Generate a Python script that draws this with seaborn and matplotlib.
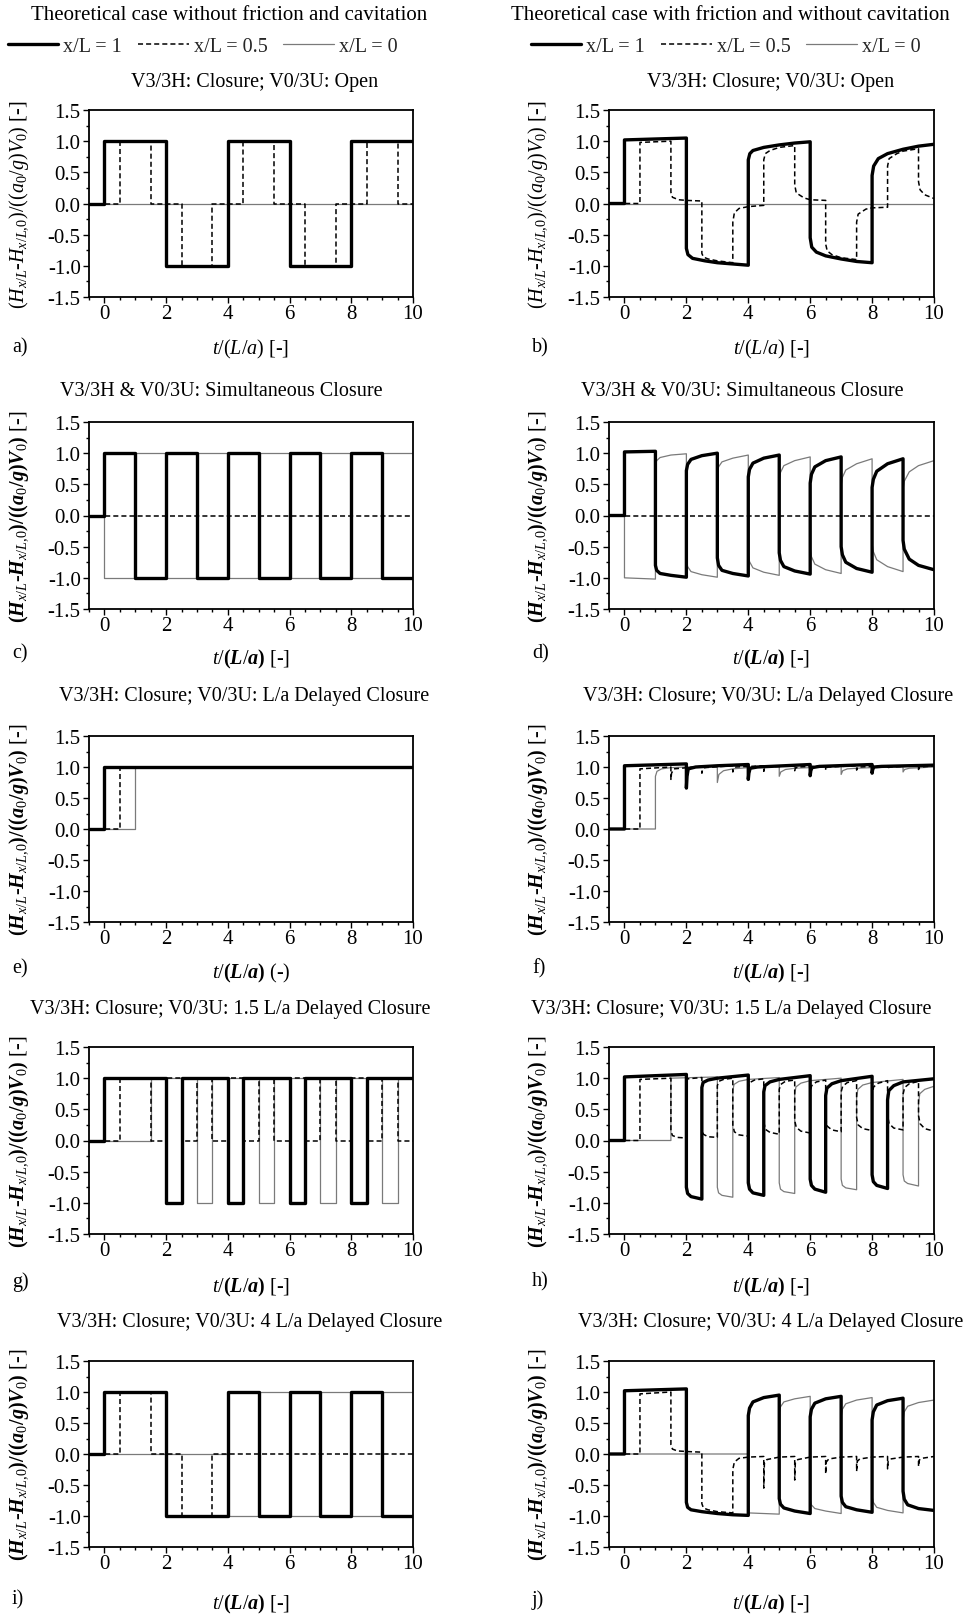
import matplotlib
matplotlib.use("Agg")
import matplotlib.pyplot as plt
import seaborn as sns
from matplotlib.lines import Line2D
from matplotlib.ticker import MultipleLocator

# ==============================================================================
# Head at x/L = 1, 0.5, 0 : dimensionless time t/(L/a) vs (H - H0)/((a0/g)V0)
# Each series = breakpoints (t, h)
# ==============================================================================

# ---- a) no friction, V3/3H closure, V0/3U open
a_x1 = [(-0.5, 0), (0, 0), (0, 1), (2, 1), (2, -1), (4, -1), (4, 1), (6, 1), (6, -1), (8, -1), (8, 1), (10, 1)]
a_x05 = [(-0.5, 0), (0.5, 0), (0.5, 1), (1.5, 1), (1.5, 0), (2.5, 0), (2.5, -1), (3.5, -1), (3.5, 0), (4.5, 0),
         (4.5, 1), (5.5, 1), (5.5, 0), (6.5, 0), (6.5, -1), (7.5, -1), (7.5, 0), (8.5, 0), (8.5, 1), (9.5, 1),
         (9.5, 0), (10, 0)]
a_x0 = [(-0.5, 0), (10, 0)]

# ---- b) friction, V3/3H closure, V0/3U open
b_x1 = [(-0.5, 0), (0, 0), (0, 1.02), (2, 1.05), (2, -0.72), (2.05, -0.82), (2.2, -0.88), (2.6, -0.92), (3, -0.95),
        (3.5, -0.97), (4, -0.99), (4, 0.7), (4.05, 0.8), (4.15, 0.85), (4.5, 0.9), (5, 0.94), (5.5, 0.97), (6, 0.99),
        (6, -0.55), (6.05, -0.7), (6.2, -0.78), (6.5, -0.84), (7, -0.89), (7.5, -0.93), (8, -0.95), (8, 0.45),
        (8.05, 0.6), (8.2, 0.72), (8.5, 0.8), (9, 0.87), (9.5, 0.92), (10, 0.95)]
b_x05 = [(-0.5, 0), (0.5, 0), (0.5, 0.98), (1.5, 1.0), (1.5, 0.18), (1.55, 0.1), (1.75, 0.06), (2, 0.05), (2.5, 0.04),
         (2.5, -0.8), (2.55, -0.86), (2.7, -0.89), (3, -0.92), (3.5, -0.95), (3.5, -0.3), (3.55, -0.15), (3.7, -0.08),
         (4, -0.05), (4.5, -0.03), (4.5, 0.7), (4.55, 0.8), (4.7, 0.85), (5, 0.9), (5.5, 0.93), (5.5, 0.3), (5.55, 0.17),
         (5.8, 0.09), (6, 0.06), (6.5, 0.05), (6.5, -0.65), (6.55, -0.76), (6.7, -0.82), (7, -0.87), (7.5, -0.9),
         (7.5, -0.3), (7.55, -0.17), (7.8, -0.09), (8, -0.07), (8.5, -0.06), (8.5, 0.6), (8.55, 0.72), (8.8, 0.8),
         (9, 0.84), (9.5, 0.88), (9.5, 0.35), (9.55, 0.22), (9.7, 0.14), (10, 0.08)]
b_x0 = [(-0.5, 0), (10, 0)]

# ---- c) no friction, simultaneous closure
c_x1 = [(-0.5, 0), (0, 0), (0, 1), (1, 1), (1, -1), (2, -1), (2, 1), (3, 1), (3, -1), (4, -1), (4, 1), (5, 1),
        (5, -1), (6, -1), (6, 1), (7, 1), (7, -1), (8, -1), (8, 1), (9, 1), (9, -1), (10, -1)]
c_x05 = [(-0.5, 0), (10, 0)]
c_x0 = [(-0.5, 0), (0, 0), (0, -1), (1, -1), (1, 1), (2, 1), (2, -1), (3, -1), (3, 1), (4, 1), (4, -1), (5, -1),
        (5, 1), (6, 1), (6, -1), (7, -1), (7, 1), (8, 1), (8, -1), (9, -1), (9, 1), (10, 1)]

# ---- d) friction, simultaneous closure
d_x1 = [(-0.5, 0), (0, 0), (0, 1.02), (1, 1.03), (1, -0.8), (1.04, -0.88), (1.15, -0.93), (1.5, -0.96), (2, -0.99),
        (2, 0.72), (2.04, 0.82), (2.15, 0.9), (2.5, 0.96), (3, 1.0), (3, -0.68), (3.04, -0.8), (3.15, -0.88),
        (3.5, -0.93), (4, -0.97), (4, 0.62), (4.04, 0.74), (4.15, 0.84), (4.5, 0.92), (5, 0.97), (5, -0.6),
        (5.04, -0.72), (5.15, -0.82), (5.5, -0.89), (6, -0.94), (6, 0.52), (6.04, 0.66), (6.15, 0.78), (6.5, 0.88),
        (7, 0.94), (7, -0.5), (7.04, -0.63), (7.15, -0.75), (7.5, -0.85), (8, -0.91), (8, 0.45), (8.04, 0.58),
        (8.15, 0.71), (8.5, 0.83), (9, 0.91), (9, -0.4), (9.04, -0.54), (9.2, -0.7), (9.5, -0.8), (10, -0.87)]
d_x05 = [(-0.5, 0), (10, 0)]
d_x0 = [(-0.5, 0), (0, 0), (0, -1.0), (1, -1.02), (1, 0.8), (1.04, 0.88), (1.15, 0.93), (1.5, 0.97), (2, 0.99),
        (2, -0.72), (2.04, -0.82), (2.15, -0.9), (2.5, -0.95), (3, -0.99), (3, 0.66), (3.04, 0.78), (3.15, 0.86),
        (3.5, 0.92), (4, 0.97), (4, -0.62), (4.04, -0.74), (4.15, -0.84), (4.5, -0.91), (5, -0.96), (5, 0.56),
        (5.04, 0.69), (5.15, 0.8), (5.5, 0.88), (6, 0.94), (6, -0.52), (6.04, -0.66), (6.15, -0.78), (6.5, -0.87),
        (7, -0.93), (7, 0.48), (7.04, 0.61), (7.15, 0.73), (7.5, 0.83), (8, 0.91), (8, -0.45), (8.04, -0.58),
        (8.15, -0.71), (8.5, -0.82), (9, -0.9), (9, 0.42), (9.04, 0.55), (9.2, 0.7), (9.5, 0.8), (10, 0.88)]

# ---- e) no friction, V0/3U L/a delayed closure
e_x1 = [(-0.5, 0), (0, 0), (0, 1), (10, 1)]
e_x05 = [(-0.5, 0), (0.5, 0), (0.5, 1), (10, 1)]
e_x0 = [(-0.5, 0), (1, 0), (1, 1), (10, 1)]

# ---- f) friction, V0/3U L/a delayed closure
f_x1 = [(-0.5, 0), (0, 0), (0, 1.02), (2, 1.05), (2, 0.66), (2.02, 0.85), (2.06, 0.97), (2.3, 1.0), (3, 1.02),
        (4, 1.04), (4, 0.8), (4.02, 0.9), (4.06, 0.98), (4.3, 1.0), (6, 1.04), (6, 0.86), (6.02, 0.94), (6.06, 0.99),
        (6.3, 1.01), (8, 1.04), (8, 0.9), (8.02, 0.96), (8.06, 1.0), (8.3, 1.01), (10, 1.03)]
f_x05 = [(-0.5, 0), (0.5, 0), (0.5, 0.97), (1.5, 1.0), (1.5, 0.8), (1.52, 0.9), (1.6, 0.97), (2.5, 1.01),
         (2.5, 0.9), (2.52, 0.95), (2.6, 0.99), (3.5, 1.02), (3.5, 0.92), (3.52, 0.97), (3.6, 1.0), (4.5, 1.02),
         (4.5, 0.93), (4.52, 0.98), (4.6, 1.0), (5.5, 1.02), (5.5, 0.94), (5.52, 0.98), (5.6, 1.0), (6.5, 1.02),
         (6.5, 0.95), (6.52, 0.99), (6.6, 1.0), (7.5, 1.02), (7.5, 0.95), (7.52, 0.99), (7.6, 1.0), (8.5, 1.02),
         (8.5, 0.96), (8.52, 0.99), (8.6, 1.0), (9.5, 1.02), (9.5, 0.96), (9.52, 0.99), (9.6, 1.0), (10, 1.02)]
f_x0 = [(-0.5, 0), (1, 0), (1, 0.85), (1.05, 0.93), (1.2, 0.97), (1.5, 0.99), (2, 1.0), (3, 1.02), (3, 0.75),
        (3.05, 0.88), (3.2, 0.94), (3.5, 0.97), (4, 0.99), (5, 1.01), (5, 0.85), (5.05, 0.92), (5.2, 0.96),
        (5.5, 0.98), (6, 0.99), (7, 1.01), (7, 0.88), (7.05, 0.94), (7.2, 0.97), (7.5, 0.98), (8, 0.99), (9, 1.0),
        (9, 0.92), (9.05, 0.96), (9.2, 0.98), (10, 1.0)]

# ---- g) no friction, V0/3U 1.5 L/a delayed closure
g_x1 = [(-0.5, 0), (0, 0), (0, 1), (2, 1), (2, -1), (2.5, -1), (2.5, 1), (4, 1), (4, -1), (4.5, -1), (4.5, 1),
        (6, 1), (6, -1), (6.5, -1), (6.5, 1), (8, 1), (8, -1), (8.5, -1), (8.5, 1), (10, 1)]
g_x05 = [(-0.5, 0), (0.5, 0), (0.5, 1), (1.5, 1), (1.5, 0), (2, 0), (2, 1), (2.5, 1), (2.5, 0), (3, 0), (3, 1),
         (3.5, 1), (3.5, 0), (4, 0), (4, 1), (4.5, 1), (4.5, 0), (5, 0), (5, 1), (5.5, 1), (5.5, 0), (6, 0), (6, 1),
         (6.5, 1), (6.5, 0), (7, 0), (7, 1), (7.5, 1), (7.5, 0), (8, 0), (8, 1), (8.5, 1), (8.5, 0), (9, 0), (9, 1),
         (9.5, 1), (9.5, 0), (10, 0)]
g_x0 = [(-0.5, 0), (1.5, 0), (1.5, 1), (3, 1), (3, -1), (3.5, -1), (3.5, 1), (5, 1), (5, -1), (5.5, -1), (5.5, 1),
        (7, 1), (7, -1), (7.5, -1), (7.5, 1), (9, 1), (9, -1), (9.5, -1), (9.5, 1), (10, 1)]

# ---- h) friction, V0/3U 1.5 L/a delayed closure
h_x1 = [(-0.5, 0), (0, 0), (0, 1.02), (2, 1.06), (2, -0.75), (2.04, -0.85), (2.15, -0.9), (2.5, -0.94), (2.5, 0.85),
        (2.54, 0.93), (2.7, 0.97), (3, 1.0), (4, 1.05), (4, -0.68), (4.04, -0.78), (4.15, -0.84), (4.5, -0.88),
        (4.5, 0.78), (4.54, 0.88), (4.7, 0.94), (5, 0.98), (6, 1.04), (6, -0.62), (6.04, -0.72), (6.15, -0.78),
        (6.5, -0.83), (6.5, 0.72), (6.54, 0.84), (6.7, 0.91), (7, 0.96), (8, 1.03), (8, -0.55), (8.04, -0.66),
        (8.15, -0.72), (8.5, -0.77), (8.5, 0.65), (8.54, 0.8), (8.7, 0.88), (9, 0.94), (10, 0.99)]
h_x05 = [(-0.5, 0), (0.5, 0), (0.5, 0.98), (1.5, 1.0), (1.5, 0.15), (1.55, 0.08), (1.7, 0.05), (2, 0.04),
         (2, 0.95), (2.05, 0.99), (2.5, 1.01), (2.5, 0.18), (2.55, 0.1), (2.7, 0.06), (3, 0.05), (3, 0.88),
         (3.05, 0.95), (3.2, 0.98), (3.5, 1.0), (3.5, 0.25), (3.55, 0.14), (3.7, 0.09), (4, 0.07), (4, 0.85),
         (4.05, 0.93), (4.2, 0.97), (4.5, 0.99), (4.5, 0.3), (4.55, 0.18), (4.7, 0.13), (5, 0.1), (5, 0.82),
         (5.05, 0.9), (5.2, 0.95), (5.5, 0.97), (5.5, 0.32), (5.55, 0.21), (5.7, 0.15), (6, 0.12), (6, 0.8),
         (6.05, 0.88), (6.2, 0.94), (6.5, 0.97), (6.5, 0.35), (6.55, 0.23), (6.7, 0.17), (7, 0.14), (7, 0.78),
         (7.05, 0.87), (7.2, 0.93), (7.5, 0.96), (7.5, 0.37), (7.55, 0.25), (7.7, 0.19), (8, 0.16), (8, 0.76),
         (8.05, 0.86), (8.2, 0.92), (8.5, 0.96), (8.5, 0.4), (8.55, 0.27), (8.7, 0.2), (9, 0.17), (9, 0.74),
         (9.05, 0.85), (9.2, 0.91), (9.5, 0.95), (9.5, 0.4), (9.55, 0.27), (9.7, 0.19), (10, 0.15)]
h_x0 = [(-0.5, 0), (1.5, 0), (1.5, 1.0), (3, 1.02), (3, -0.75), (3.04, -0.84), (3.15, -0.88), (3.5, -0.91),
        (3.5, 0.8), (3.54, 0.9), (3.7, 0.95), (4, 0.98), (5, 1.01), (5, -0.68), (5.04, -0.78), (5.15, -0.82),
        (5.5, -0.85), (5.5, 0.75), (5.54, 0.86), (5.7, 0.92), (6, 0.96), (7, 1.0), (7, -0.62), (7.04, -0.72),
        (7.15, -0.76), (7.5, -0.79), (7.5, 0.7), (7.54, 0.82), (7.7, 0.89), (8, 0.93), (9, 0.98), (9, -0.55),
        (9.04, -0.65), (9.15, -0.69), (9.5, -0.73), (9.5, 0.6), (9.54, 0.75), (9.7, 0.82), (10, 0.87)]

# ---- i) no friction, V0/3U 4 L/a delayed closure
i_x1 = [(-0.5, 0), (0, 0), (0, 1), (2, 1), (2, -1), (4, -1), (4, 1), (5, 1), (5, -1), (6, -1), (6, 1), (7, 1),
        (7, -1), (8, -1), (8, 1), (9, 1), (9, -1), (10, -1)]
i_x05 = [(-0.5, 0), (0.5, 0), (0.5, 1), (1.5, 1), (1.5, 0), (2.5, 0), (2.5, -1), (3.5, -1), (3.5, 0), (10, 0)]
i_x0 = [(-0.5, 0), (4, 0), (4, -1), (5, -1), (5, 1), (6, 1), (6, -1), (7, -1), (7, 1), (8, 1), (8, -1), (9, -1),
        (9, 1), (10, 1)]

# ---- j) friction, V0/3U 4 L/a delayed closure
j_x1 = [(-0.5, 0), (0, 0), (0, 1.02), (2, 1.05), (2, -0.78), (2.04, -0.86), (2.15, -0.9), (2.5, -0.93), (3, -0.96),
        (3.5, -0.98), (4, -0.99), (4, 0.62), (4.04, 0.74), (4.15, 0.84), (4.5, 0.91), (5, 0.95), (5, -0.72),
        (5.04, -0.81), (5.15, -0.87), (5.5, -0.92), (6, -0.96), (6, 0.6), (6.04, 0.72), (6.15, 0.82), (6.5, 0.89),
        (7, 0.93), (7, -0.68), (7.04, -0.78), (7.15, -0.85), (7.5, -0.9), (8, -0.94), (8, 0.55), (8.04, 0.68),
        (8.15, 0.79), (8.5, 0.86), (9, 0.9), (9, -0.6), (9.04, -0.73), (9.15, -0.82), (9.5, -0.88), (10, -0.91)]
j_x05 = [(-0.5, 0), (0.5, 0), (0.5, 0.97), (1.5, 1.0), (1.5, 0.15), (1.55, 0.08), (1.7, 0.05), (2, 0.04),
         (2.5, 0.03), (2.5, -0.8), (2.55, -0.87), (2.7, -0.9), (3, -0.93), (3.5, -0.95), (3.5, -0.25), (3.55, -0.13),
         (3.7, -0.07), (4, -0.05), (4.5, -0.04), (4.5, -0.55), (4.52, -0.15), (4.6, -0.09), (5, -0.05), (5.5, -0.04),
         (5.5, -0.42), (5.52, -0.14), (5.6, -0.09), (6, -0.05), (6.5, -0.04), (6.5, -0.32), (6.52, -0.13),
         (6.6, -0.08), (7, -0.05), (7.5, -0.04), (7.5, -0.28), (7.52, -0.12), (7.6, -0.08), (8, -0.05), (8.5, -0.04),
         (8.5, -0.24), (8.52, -0.11), (8.6, -0.08), (9, -0.05), (9.5, -0.04), (9.5, -0.2), (9.52, -0.1),
         (9.6, -0.07), (10, -0.04)]
j_x0 = [(-0.5, 0), (4, 0), (4, -0.95), (5, -0.97), (5, 0.66), (5.04, 0.76), (5.15, 0.84), (5.5, 0.89), (6, 0.93),
        (6, -0.72), (6.04, -0.82), (6.15, -0.88), (6.5, -0.92), (7, -0.96), (7, 0.6), (7.04, 0.72), (7.15, 0.81),
        (7.5, 0.87), (8, 0.91), (8, -0.68), (8.04, -0.78), (8.15, -0.86), (8.5, -0.91), (9, -0.95), (9, 0.55),
        (9.04, 0.68), (9.15, 0.77), (9.5, 0.83), (10, 0.87)]

titles = {
    'a': "V3/3H: Closure; V0/3U: Open",
    'b': "V3/3H: Closure; V0/3U: Open",
    'c': "V3/3H & V0/3U: Simultaneous Closure",
    'd': "V3/3H & V0/3U: Simultaneous Closure",
    'e': "V3/3H: Closure; V0/3U: L/a Delayed Closure",
    'f': "V3/3H: Closure; V0/3U: L/a Delayed Closure",
    'g': "V3/3H: Closure; V0/3U: 1.5 L/a Delayed Closure",
    'h': "V3/3H: Closure; V0/3U: 1.5 L/a Delayed Closure",
    'i': "V3/3H: Closure; V0/3U: 4 L/a Delayed Closure",
    'j': "V3/3H: Closure; V0/3U: 4 L/a Delayed Closure",
}
series = {
    'a': (a_x0, a_x05, a_x1), 'b': (b_x0, b_x05, b_x1),
    'c': (c_x0, c_x05, c_x1), 'd': (d_x0, d_x05, d_x1),
    'e': (e_x0, e_x05, e_x1), 'f': (f_x0, f_x05, f_x1),
    'g': (g_x0, g_x05, g_x1), 'h': (h_x0, h_x05, h_x1),
    'i': (i_x0, i_x05, i_x1), 'j': (j_x0, j_x05, j_x1),
}
legend_labels = ["x/L = 1", "x/L = 0.5", "x/L = 0"]

# ---- estilo
sns.set_theme(style="white")
plt.rcParams['font.family'] = ['Liberation Serif', 'DejaVu Serif']
plt.rcParams['mathtext.fontset'] = 'custom'
plt.rcParams['mathtext.rm'] = 'Liberation Serif'
plt.rcParams['mathtext.it'] = 'Liberation Serif:italic'
plt.rcParams['mathtext.bf'] = 'Liberation Serif:bold'
plt.rcParams['mathtext.bfit'] = 'Liberation Serif:bold:italic'
plt.rcParams['axes.unicode_minus'] = False
FS = 14.5
FS_TICK = 15

sty_x0 = dict(color='#7a7a7a', linewidth=0.9, linestyle='-')
sty_x05 = dict(color='black', linewidth=1.1, linestyle=(0, (3.3, 2.0)))
sty_x1 = dict(color='black', linewidth=2.4, linestyle='-')
styles = (sty_x0, sty_x05, sty_x1)

W, H = 976, 1615
cols = [(89, 413), (609, 934)]
rows = [(111, 298), (423, 610), (737, 923), (1048, 1235), (1362, 1548)]
title_y = [82, 392, 697, 1010, 1323]
title_x = {'a': 255, 'b': 771, 'c': 221, 'd': 742, 'e': 244, 'f': 768, 'g': 230, 'h': 731, 'i': 250, 'j': 771}
lab_x = [12, 532]
lab_dy = [50, 44, 46, 47, 52]     # panel letter below axes bottom (px)
xlab_dy = [40, 38, 39, 41, 45]    # xlabel top below axes bottom (px)

ylab_plain = r'$(\mathit{H}_{x/L}$-$\mathit{H}_{x/L,\!0})/((\mathit{a}_0/\mathit{g})\mathit{V}_0)$ [-]'
ylab_bold = (r'$\mathbf{(}\mathbfit{H}_{x/L}$-$\mathbfit{H}_{x/L,\!0}\mathbf{)/((}\mathbfit{a}_0'
             r'\mathbf{/}\mathbfit{g}\mathbf{)}\mathbfit{V}_0\mathbf{)}$ [-]')
xlab_plain = r'$\mathit{t}/(\mathit{L}/\mathit{a})$ [-]'
xlab_bold = r'$\mathit{t}/\mathbf{(}\mathbfit{L}/\mathbfit{a}\mathbf{)}$ [-]'
xlab_bold_paren = r'$\mathit{t}/\mathbf{(}\mathbfit{L}/\mathbfit{a}\mathbf{)}$ (-)'

fig = plt.figure(figsize=(W / 100, H / 100), dpi=100)

letters = "abcdefghij"
for k, let in enumerate(letters):
    r, c = divmod(k, 2)
    left, right = cols[c]
    top, bot = rows[r]
    ax = fig.add_axes([left / W, 1 - bot / H, (right - left) / W, (bot - top) / H])
    for pts, sty in zip(series[let], styles):
        tt = [p[0] for p in pts]
        hh = [p[1] for p in pts]
        sns.lineplot(x=tt, y=hh, sort=False, estimator=None, ax=ax, **sty)

    ax.set_xlim(-0.5, 10)
    ax.set_ylim(-1.5, 1.5)
    ax.xaxis.set_major_locator(MultipleLocator(2))
    ax.xaxis.set_minor_locator(MultipleLocator(0.5))
    ax.yaxis.set_major_locator(MultipleLocator(0.5))
    ax.yaxis.set_minor_locator(MultipleLocator(0.25))
    ax.yaxis.set_major_formatter(matplotlib.ticker.FormatStrFormatter('%.1f'))
    ax.tick_params(which='both', direction='out', color='black', width=1.0,
                   labelsize=FS_TICK, labelcolor='black', bottom=True, left=True)
    ax.tick_params(axis='x', which='both', pad=1)
    ax.tick_params(axis='y', which='both', pad=2)
    ax.tick_params(which='major', length=4)
    ax.tick_params(which='minor', length=2.5)
    for sp in ax.spines.values():
        sp.set_color('black')
        sp.set_linewidth(1.3)

    bold = r > 0
    ax.set_ylabel(ylab_bold if bold else ylab_plain, fontsize=FS, color='black')
    ax.yaxis.set_label_coords(-0.18, 0.5)
    if let == 'e':
        xl = xlab_bold_paren
    else:
        xl = xlab_bold if bold else xlab_plain
    ax.set_xlabel(xl, fontsize=FS, color='black')
    ax.xaxis.set_label_coords(0.5, -xlab_dy[r] / (bot - top))
    ax.xaxis.label.set_va('top')

    fig.text(title_x[let] / W, 1 - title_y[r] / H, titles[let], ha='center', va='center',
             fontsize=FS, color='black')
    fig.text(lab_x[c] / W, 1 - (bot + lab_dy[r]) / H, let + ")", ha='left', va='center',
             fontsize=FS, color='black')

# ---- encabezados y leyendas
fig.text(229 / W, 1 - 15 / H, "Theoretical case without friction and cavitation",
         ha='center', va='center', fontsize=15, color='black')
fig.text(730 / W, 1 - 15 / H, "Theoretical case with friction and without cavitation",
         ha='center', va='center', fontsize=15, color='black')

handles = [Line2D([], [], **sty_x1), Line2D([], [], **sty_x05), Line2D([], [], **sty_x0)]
for x0 in (8, 531):
    fig.legend(handles, legend_labels, loc='center left', bbox_to_anchor=(x0 / W, 1 - 47 / H),
               ncol=3, frameon=False, borderpad=0, borderaxespad=0, fontsize=FS,
               handlelength=2.5, handletextpad=0.25, columnspacing=0.8)

fig.savefig("out.png", dpi=100, facecolor='white')
